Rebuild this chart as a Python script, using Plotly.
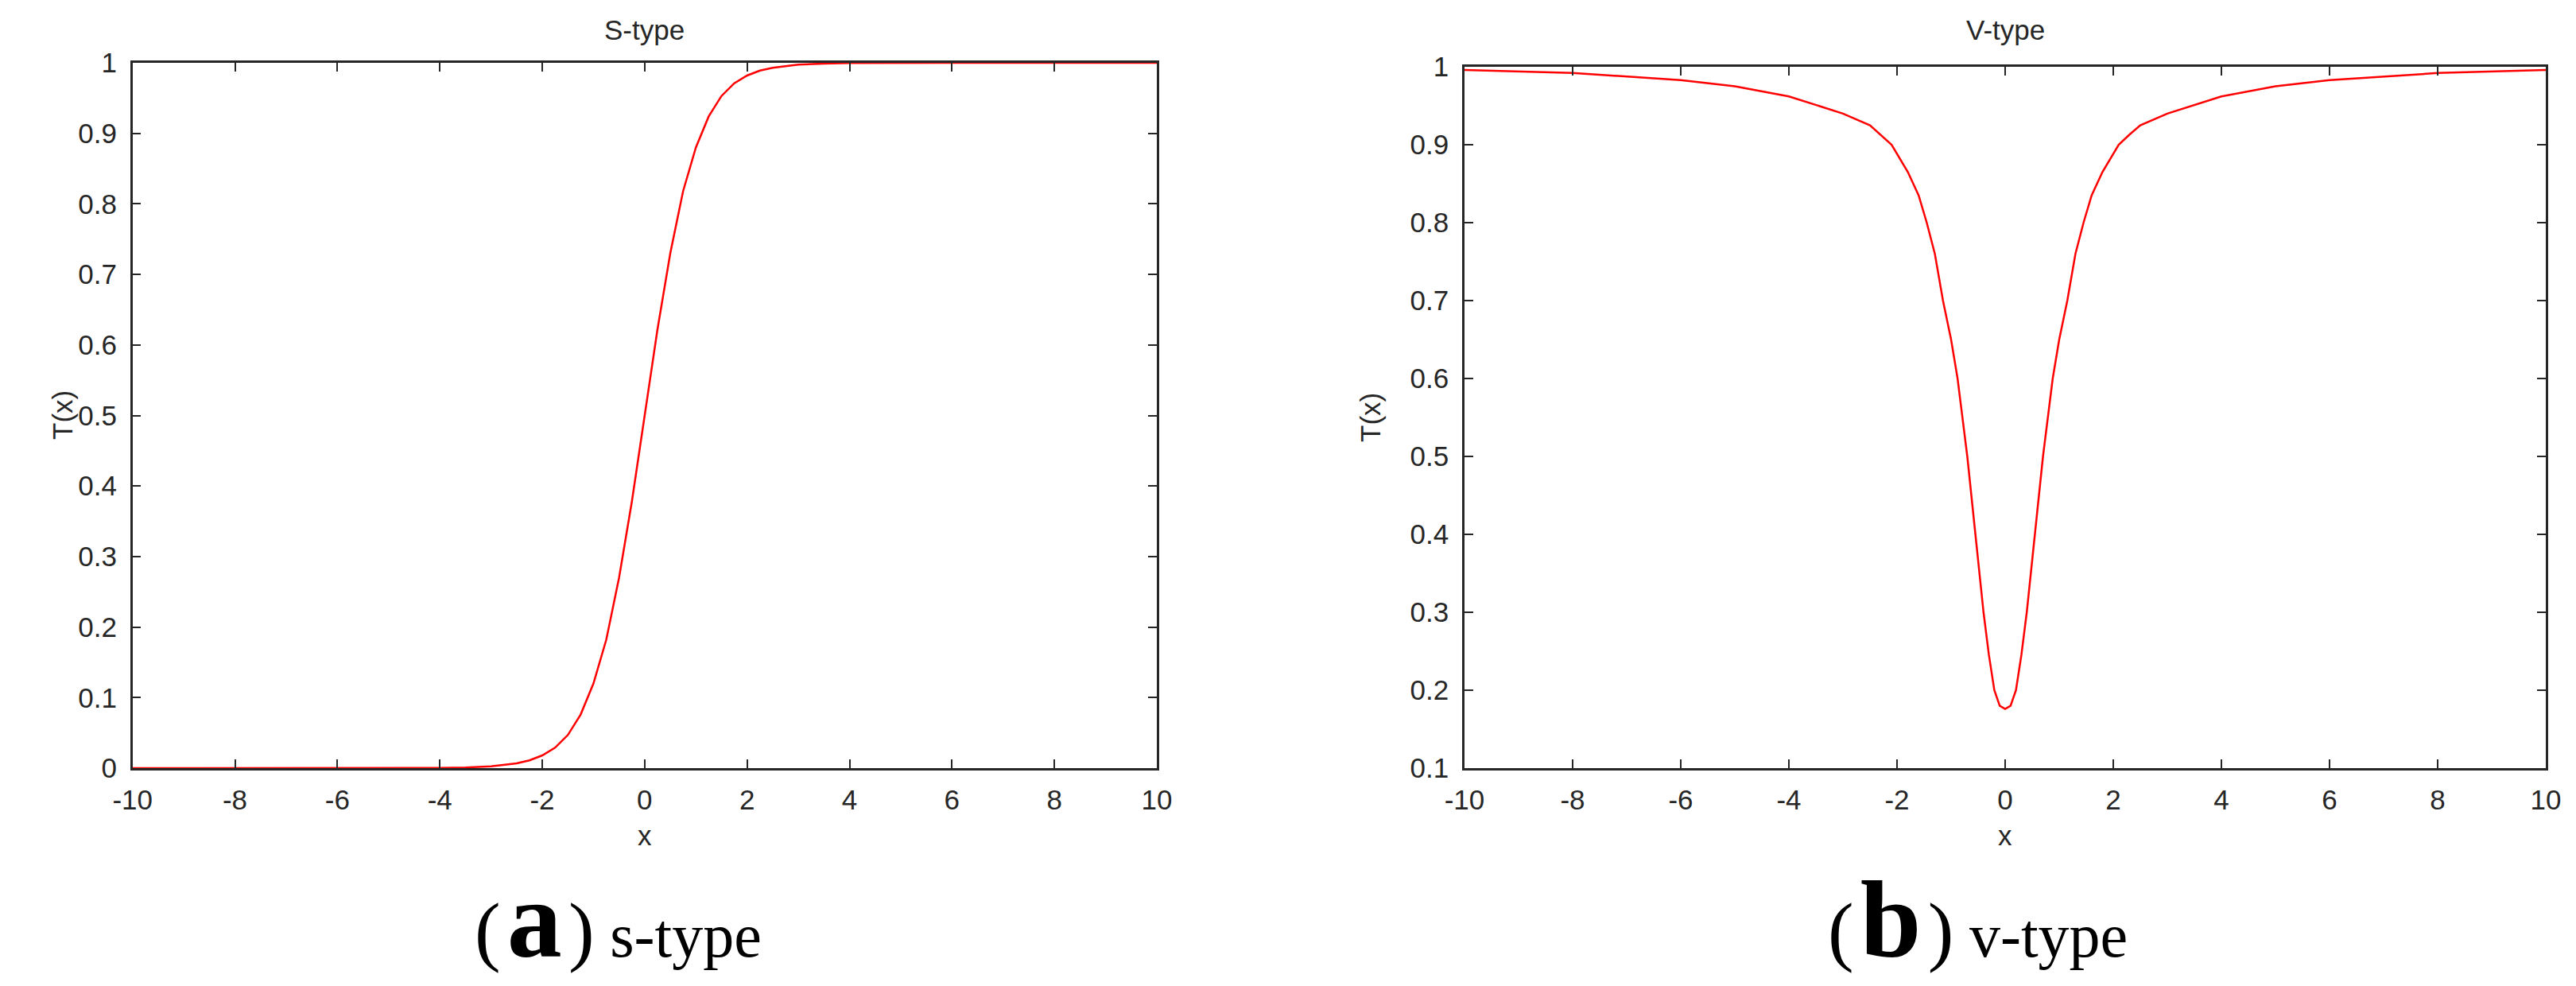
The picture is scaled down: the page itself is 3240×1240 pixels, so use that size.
"""Transfer functions: S-type and V-type curves side by side."""
import plotly.graph_objects as go

# S-type curve
s_x = [-10, -6, -4, -3.5, -3, -2.5, -2.25, -2, -1.75, -1.5, -1.25, -1, -0.75, -0.5, -0.25, 0,
       0.25, 0.5, 0.75, 1, 1.25, 1.5, 1.75, 2, 2.25, 2.5, 3, 3.5, 4, 6, 10]
s_y = [0.0, 0.0, 0.0003, 0.0009, 0.0025, 0.0067, 0.011, 0.018, 0.029, 0.047, 0.076, 0.12, 0.182,
       0.27, 0.378, 0.5, 0.622, 0.73, 0.818, 0.88, 0.924, 0.953, 0.971, 0.982, 0.989, 0.993,
       0.9975, 0.999, 0.9997, 1.0, 1.0]

# V-type curve
v_x = [-10, -8, -6, -5, -4, -3, -2.5, -2.3, -2.1, -1.8, -1.6, -1.45, -1.3, -1.15, -1.0, -0.88, -0.7,
       -0.55, -0.4, -0.3, -0.2, -0.1, 0, 0.1, 0.2, 0.3, 0.4, 0.55, 0.7, 0.88, 1.0, 1.15, 1.3, 1.45,
       1.6, 1.8, 2.1, 2.3, 2.5, 3, 4, 5, 6, 8, 10]
v_y = [0.996, 0.992, 0.983, 0.975, 0.962, 0.94, 0.925, 0.913, 0.9, 0.865, 0.835, 0.8, 0.76, 0.7,
       0.65, 0.6, 0.5, 0.4, 0.3, 0.245, 0.2, 0.18, 0.176, 0.18, 0.2, 0.245, 0.3, 0.4, 0.5, 0.6,
       0.65, 0.7, 0.76, 0.8, 0.835, 0.865, 0.9, 0.913, 0.925, 0.94, 0.962, 0.975, 0.983, 0.992, 0.996]

x_ticks = [-10, -8, -6, -4, -2, 0, 2, 4, 6, 8, 10]
x_ticktext = ["-10", "-8", "-6", "-4", "-2", "0", "2", "4", "6", "8", "10"]
s_yticks = [0, 0.1, 0.2, 0.3, 0.4, 0.5, 0.6, 0.7, 0.8, 0.9, 1]
v_yticks = [0.1, 0.2, 0.3, 0.4, 0.5, 0.6, 0.7, 0.8, 0.9, 1]

W, H = 3240, 1240
OFF = 8  # page body margin
AXIS = "#262626"
TICK_FONT = dict(family="Liberation Sans, Arial", size=35, color=AXIS)


def px(v):
    return (v - OFF) / W


def py(v):
    return 1 - (v - OFF) / H


fig = go.Figure()
fig.add_trace(go.Scatter(x=s_x, y=s_y, mode="lines", line=dict(color="#ff0000", width=2.5),
                         xaxis="x", yaxis="y", showlegend=False))
fig.add_trace(go.Scatter(x=v_x, y=v_y, mode="lines", line=dict(color="#ff0000", width=2.5),
                         xaxis="x2", yaxis="y2", showlegend=False))

common = dict(showline=True, linecolor=AXIS, linewidth=2.5, mirror="ticks", ticks="inside",
              ticklen=11, tickwidth=2, tickcolor=AXIS, showgrid=False, zeroline=False,
              tickfont=TICK_FONT, automargin=False)

left_x = [px(166.7), px(1455)]
right_x = [px(1842), px(3202)]
left_y = [py(966), py(79)]
right_y = [py(966), py(84)]

fig.update_layout(
    width=W, height=H,
    margin=dict(l=0, r=0, t=0, b=0, autoexpand=False),
    paper_bgcolor="white", plot_bgcolor="white",
    xaxis=dict(domain=left_x, range=[-10, 10], tickvals=x_ticks, ticktext=x_ticktext,
               anchor="y", ticklabelstandoff=7, **common),
    yaxis=dict(domain=left_y, range=[0, 1], tickvals=s_yticks, anchor="x",
               ticklabelstandoff=10, **common),
    xaxis2=dict(domain=right_x, range=[-10, 10], tickvals=x_ticks, ticktext=x_ticktext,
                anchor="y2", ticklabelstandoff=7, **common),
    yaxis2=dict(domain=right_y, range=[0.1, 1], tickvals=v_yticks, anchor="x2",
                ticklabelstandoff=10, **common),
)

label_font = dict(family="Liberation Sans, Arial", size=35, color=AXIS)

annotations = [
    # panel titles
    dict(text="S-type", x=sum(left_x) / 2, y=py(37)),
    dict(text="V-type", x=sum(right_x) / 2, y=py(37)),
    # x axis titles
    dict(text="x", x=sum(left_x) / 2, y=py(1050)),
    dict(text="x", x=sum(right_x) / 2, y=py(1050)),
    # y axis titles
    dict(text="T(x)", x=px(78), y=py(522), textangle=-90),
    dict(text="T(x)", x=px(1723), y=py(525), textangle=-90),
]
for a in annotations:
    fig.add_annotation(xref="paper", yref="paper", showarrow=False, font=label_font,
                       xanchor="center", yanchor="middle", **a)

# sub-figure captions
cap_font = dict(family="Liberation Serif, Times New Roman", size=78, color="black")
paren = "<span style='font-size:98px'>{}</span>"
letter = "<span style='font-size:138px'><b>{}</b></span>"
hair = "\u200a"
for tag, name, x0 in [("a", "s-type", 595), ("b", "v-type", 2297)]:
    fig.add_annotation(text=paren.format("(" + hair) + letter.format(tag) + paren.format(hair + ")")
                       + " " + name,
                       x=px(x0), y=py(1156), xref="paper", yref="paper", showarrow=False,
                       font=cap_font, xanchor="left", yanchor="middle")

fig.write_html("out.html")
